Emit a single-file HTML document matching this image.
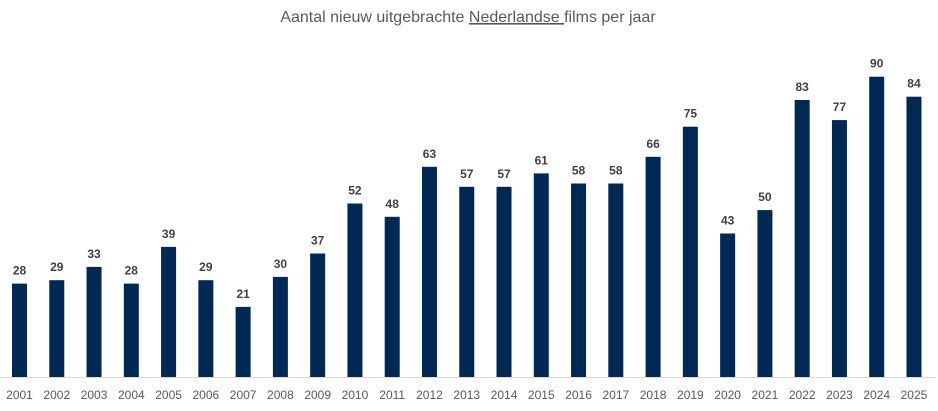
<!DOCTYPE html>
<html><head><meta charset="utf-8"><style>
body{margin:0;background:#fff;width:938px;height:406px;overflow:hidden}
svg text{font-family:"Liberation Sans",sans-serif}
.v{font-size:12px;font-weight:bold;fill:#404040;text-anchor:middle}
.y{font-size:12px;fill:#595959;text-anchor:middle}
rect{fill:#002855}
</style></head><body>
<svg width="938" height="406" xmlns="http://www.w3.org/2000/svg">
<text x="468" y="22" text-anchor="middle" font-size="16" fill="#595959">Aantal nieuw uitgebrachte <tspan text-decoration="underline">Nederlandse </tspan>films per jaar</text>
<line x1="0" y1="377.5" x2="936" y2="377.5" stroke="#d9d9d9" stroke-width="1"/>
<g transform="translate(19.5,0)"><rect x="-7.5" y="283.6" width="15" height="93.4"/><text class="v" y="274.6">28</text><text class="y" y="399">2001</text></g>
<g transform="translate(56.77,0)"><rect x="-7.5" y="280.2" width="15" height="96.8"/><text class="v" y="271.2">29</text><text class="y" y="399">2002</text></g>
<g transform="translate(94.04,0)"><rect x="-7.5" y="266.9" width="15" height="110.1"/><text class="v" y="257.9">33</text><text class="y" y="399">2003</text></g>
<g transform="translate(131.31,0)"><rect x="-7.5" y="283.6" width="15" height="93.4"/><text class="v" y="274.6">28</text><text class="y" y="399">2004</text></g>
<g transform="translate(168.58,0)"><rect x="-7.5" y="246.9" width="15" height="130.1"/><text class="v" y="237.9">39</text><text class="y" y="399">2005</text></g>
<g transform="translate(205.85,0)"><rect x="-7.5" y="280.2" width="15" height="96.8"/><text class="v" y="271.2">29</text><text class="y" y="399">2006</text></g>
<g transform="translate(243.12,0)"><rect x="-7.5" y="306.9" width="15" height="70.1"/><text class="v" y="297.9">21</text><text class="y" y="399">2007</text></g>
<g transform="translate(280.39,0)"><rect x="-7.5" y="276.9" width="15" height="100.1"/><text class="v" y="267.9">30</text><text class="y" y="399">2008</text></g>
<g transform="translate(317.66,0)"><rect x="-7.5" y="253.5" width="15" height="123.5"/><text class="v" y="244.5">37</text><text class="y" y="399">2009</text></g>
<g transform="translate(354.93,0)"><rect x="-7.5" y="203.5" width="15" height="173.5"/><text class="v" y="194.5">52</text><text class="y" y="399">2010</text></g>
<g transform="translate(392.2,0)"><rect x="-7.5" y="216.8" width="15" height="160.2"/><text class="v" y="207.8">48</text><text class="y" y="399">2011</text></g>
<g transform="translate(429.47,0)"><rect x="-7.5" y="166.8" width="15" height="210.2"/><text class="v" y="157.8">63</text><text class="y" y="399">2012</text></g>
<g transform="translate(466.74,0)"><rect x="-7.5" y="186.8" width="15" height="190.2"/><text class="v" y="177.8">57</text><text class="y" y="399">2013</text></g>
<g transform="translate(504.01,0)"><rect x="-7.5" y="186.8" width="15" height="190.2"/><text class="v" y="177.8">57</text><text class="y" y="399">2014</text></g>
<g transform="translate(541.28,0)"><rect x="-7.5" y="173.4" width="15" height="203.6"/><text class="v" y="164.4">61</text><text class="y" y="399">2015</text></g>
<g transform="translate(578.55,0)"><rect x="-7.5" y="183.5" width="15" height="193.5"/><text class="v" y="174.5">58</text><text class="y" y="399">2016</text></g>
<g transform="translate(615.82,0)"><rect x="-7.5" y="183.5" width="15" height="193.5"/><text class="v" y="174.5">58</text><text class="y" y="399">2017</text></g>
<g transform="translate(653.09,0)"><rect x="-7.5" y="156.8" width="15" height="220.2"/><text class="v" y="147.8">66</text><text class="y" y="399">2018</text></g>
<g transform="translate(690.36,0)"><rect x="-7.5" y="126.7" width="15" height="250.3"/><text class="v" y="117.7">75</text><text class="y" y="399">2019</text></g>
<g transform="translate(727.63,0)"><rect x="-7.5" y="233.5" width="15" height="143.5"/><text class="v" y="224.5">43</text><text class="y" y="399">2020</text></g>
<g transform="translate(764.9,0)"><rect x="-7.5" y="210.1" width="15" height="166.9"/><text class="v" y="201.1">50</text><text class="y" y="399">2021</text></g>
<g transform="translate(802.17,0)"><rect x="-7.5" y="100" width="15" height="277"/><text class="v" y="91">83</text><text class="y" y="399">2022</text></g>
<g transform="translate(839.44,0)"><rect x="-7.5" y="120.1" width="15" height="256.9"/><text class="v" y="111.1">77</text><text class="y" y="399">2023</text></g>
<g transform="translate(876.71,0)"><rect x="-7.5" y="76.7" width="15" height="300.3"/><text class="v" y="67.7">90</text><text class="y" y="399">2024</text></g>
<g transform="translate(913.98,0)"><rect x="-7.5" y="96.7" width="15" height="280.3"/><text class="v" y="87.7">84</text><text class="y" y="399">2025</text></g>
</svg>
</body></html>
